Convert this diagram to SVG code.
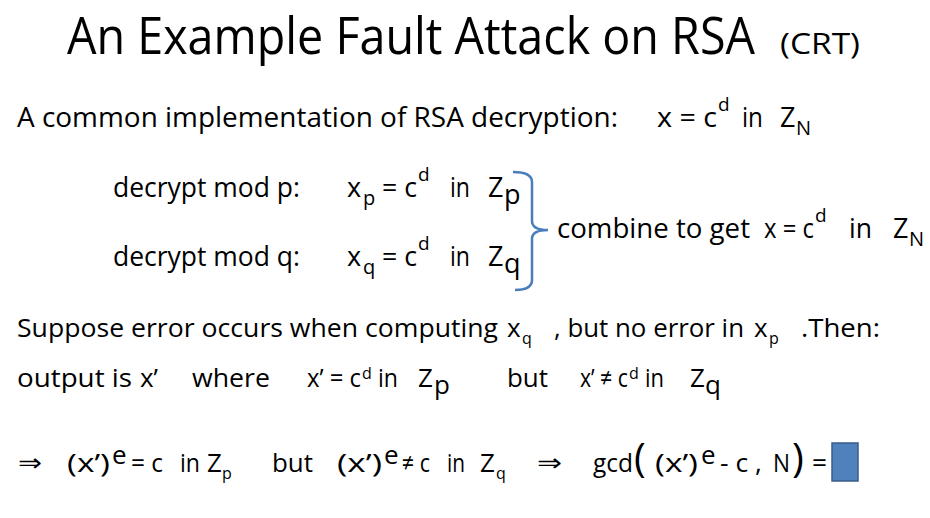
<svg xmlns="http://www.w3.org/2000/svg" width="930" height="518" viewBox="0 0 930 518">
<style>
text{font-family:"Open Sans","Liberation Sans",sans-serif;fill:#000}
.t{font-size:52px}
.t2{font-size:30px}
.b{font-size:27px}
.s{font-size:26px}
.sup{font-size:19px}
.sub{font-size:20px}
.sm{font-size:16px}
.ar{font-family:"DejaVu Sans",sans-serif;font-size:24px}
.br{fill:none;stroke:#4a7ebb;stroke-width:2.5}
</style>
<rect width="930" height="518" fill="#fff"/>
<g id="title">
<text class="t" x="67" y="54" textLength="688" lengthAdjust="spacingAndGlyphs">An Example Fault Attack on RSA</text>
<text class="t2" x="780" y="54" textLength="80" lengthAdjust="spacingAndGlyphs">(CRT)</text>
</g>
<g id="line1">
<text class="b" x="17" y="127" textLength="601" lengthAdjust="spacingAndGlyphs">A common implementation of RSA decryption:</text>
<text class="b" x="657" y="127" textLength="60" lengthAdjust="spacingAndGlyphs">x = c</text>
<text class="sup" x="718" y="111">d</text>
<text class="b" x="742" y="127" textLength="21" lengthAdjust="spacingAndGlyphs">in</text>
<text class="b" x="780" y="127">Z</text>
<text class="sub" x="796" y="135">N</text>
</g>
<g id="rowp">
<text class="b" x="113" y="197" textLength="187" lengthAdjust="spacingAndGlyphs">decrypt mod p:</text>
<text class="b" x="347" y="197">x</text>
<text class="sub" x="363" y="205">p</text>
<text class="b" x="382" y="197" textLength="35" lengthAdjust="spacingAndGlyphs">= c</text>
<text class="sup" x="418" y="181">d</text>
<text class="b" x="450" y="197" textLength="20" lengthAdjust="spacingAndGlyphs">in</text>
<text class="b" x="488" y="197">Z</text>
<text class="b" x="504" y="204">p</text>
</g>
<g id="rowq">
<text class="b" x="113" y="266" textLength="187" lengthAdjust="spacingAndGlyphs">decrypt mod q:</text>
<text class="b" x="347" y="266">x</text>
<text class="sub" x="363" y="274">q</text>
<text class="b" x="382" y="266" textLength="35" lengthAdjust="spacingAndGlyphs">= c</text>
<text class="sup" x="418" y="250">d</text>
<text class="b" x="450" y="266" textLength="20" lengthAdjust="spacingAndGlyphs">in</text>
<text class="b" x="488" y="266">Z</text>
<text class="b" x="504" y="273">q</text>
</g>
<g id="connectors">
<path class="br" d="M513,172 Q532,172 532,182 L532,221 Q532,230 548,230 Q532,230 532,239 L532,280 Q532,290 515,290"/>
</g>
<g id="combine">
<text class="b" x="557" y="238" textLength="193" lengthAdjust="spacingAndGlyphs">combine to get</text>
<text class="b" x="764" y="238" textLength="50" lengthAdjust="spacingAndGlyphs">x = c</text>
<text class="sup" x="815" y="222">d</text>
<text class="b" x="849" y="238" textLength="23" lengthAdjust="spacingAndGlyphs">in</text>
<text class="b" x="893" y="238">Z</text>
<text class="sub" x="909" y="246">N</text>
</g>
<g id="suppose">
<text class="s" x="17" y="337" textLength="481" lengthAdjust="spacingAndGlyphs">Suppose error occurs when computing</text>
<text class="s" x="507" y="337">x</text>
<text class="sm" x="522" y="344">q</text>
<text class="s" x="554" y="337" textLength="190" lengthAdjust="spacingAndGlyphs">, but no error in</text>
<text class="s" x="754" y="337">x</text>
<text class="sm" x="769" y="344">p</text>
<text class="s" x="801" y="337" textLength="79" lengthAdjust="spacingAndGlyphs">.Then:</text>
</g>
<g id="output">
<text class="s" x="17" y="387" textLength="115" lengthAdjust="spacingAndGlyphs">output is</text>
<text class="s" x="140" y="387">x’</text>
<text class="s" x="192" y="387" textLength="78" lengthAdjust="spacingAndGlyphs">where</text>
<text class="s" x="307" y="387" textLength="54" lengthAdjust="spacingAndGlyphs">x’ = c</text>
<text class="sm" x="362" y="379">d</text>
<text class="s" x="378" y="387" textLength="20" lengthAdjust="spacingAndGlyphs">in</text>
<text class="s" x="418" y="387">Z</text>
<text class="s" x="434" y="394">p</text>
<text class="s" x="507" y="387" textLength="41" lengthAdjust="spacingAndGlyphs">but</text>
<text class="s" x="580" y="387" textLength="48" lengthAdjust="spacingAndGlyphs">x’ ≠ c</text>
<text class="sm" x="629" y="379">d</text>
<text class="s" x="645" y="387" textLength="19" lengthAdjust="spacingAndGlyphs">in</text>
<text class="s" x="690" y="387">Z</text>
<text class="s" x="705" y="394">q</text>
</g>
<g id="conclusion">
<text class="ar" x="18" y="471" textLength="24" lengthAdjust="spacingAndGlyphs">⇒</text>
<text class="s" x="67" y="472" textLength="43" lengthAdjust="spacingAndGlyphs">(x’)</text>
<text class="s" x="112" y="464">e</text>
<text class="s" x="131" y="472" textLength="32" lengthAdjust="spacingAndGlyphs">= c</text>
<text class="s" x="180" y="472" textLength="20" lengthAdjust="spacingAndGlyphs">in</text>
<text class="s" x="207" y="472">Z</text>
<text class="sm" x="222" y="479">p</text>
<text class="s" x="272" y="472" textLength="41" lengthAdjust="spacingAndGlyphs">but</text>
<text class="s" x="337" y="472" textLength="45" lengthAdjust="spacingAndGlyphs">(x’)</text>
<text class="s" x="384" y="464">e</text>
<text class="s" x="402" y="472" textLength="28" lengthAdjust="spacingAndGlyphs">≠ c</text>
<text class="s" x="447" y="472" textLength="18" lengthAdjust="spacingAndGlyphs">in</text>
<text class="s" x="480" y="472">Z</text>
<text class="sm" x="496" y="479">q</text>
<text class="ar" x="537" y="471" textLength="25" lengthAdjust="spacingAndGlyphs">⇒</text>
<text class="s" x="593" y="472" textLength="40" lengthAdjust="spacingAndGlyphs">gcd</text>
<text x="634" y="472" style="font-size:40px">(</text>
<text class="s" x="655" y="472" textLength="43" lengthAdjust="spacingAndGlyphs">(x’)</text>
<text class="s" x="701" y="464">e</text>
<text class="s" x="720" y="472" textLength="42" lengthAdjust="spacingAndGlyphs">- c ,</text>
<text class="s" x="773" y="472" textLength="17" lengthAdjust="spacingAndGlyphs">N</text>
<text x="792" y="472" style="font-size:40px">)</text>
<text class="s" x="812" y="472" textLength="15" lengthAdjust="spacingAndGlyphs">=</text>
<rect x="832" y="443" width="26" height="38" fill="#4f81bd" stroke="#385d8a" stroke-width="1.5"/>
</g>
</svg>
